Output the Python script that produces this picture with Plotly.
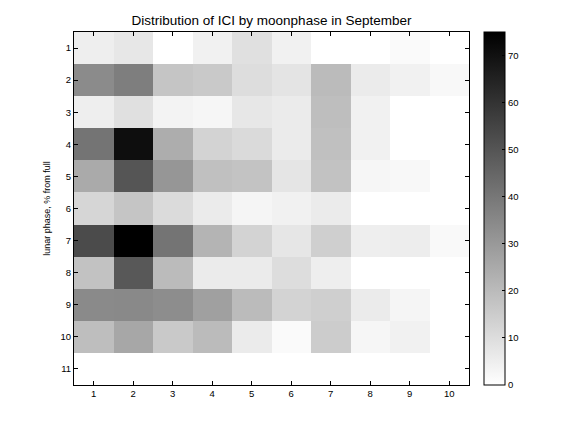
import plotly.graph_objects as go

x_labels = [1, 2, 3, 4, 5, 6, 7, 8, 9, 10]
y_labels = [1, 2, 3, 4, 5, 6, 7, 8, 9, 10, 11]

row1 = [5, 7, 0, 4, 9, 4, 0, 0, 1.5, 0]
row2 = [34, 38, 17, 16, 10, 8, 20, 6, 4, 2]
row3 = [5, 9, 3.5, 2.6, 7, 6, 19, 4, 0, 0]
row4 = [41, 71, 24, 13, 11, 6, 18.5, 4, 0, 0]
row5 = [25, 50, 31, 18.5, 17.6, 7.6, 18, 2.6, 2, 0]
row6 = [12, 17, 10.6, 6, 3, 4, 6, 0, 0, 0]
row7 = [53, 75, 41, 22, 13, 7.4, 14, 5, 5.3, 1.8]
row8 = [18, 49, 20, 6, 6, 10, 5, 0, 0, 0]
row9 = [34.4, 34.7, 33.5, 28, 20, 13, 14, 6, 3, 0]
row10 = [19, 26, 16, 20, 6, 1.5, 15, 2.6, 4, 0]
row11 = [0, 0, 0, 0, 0, 0, 0, 0, 0, 0]

z = [row1, row2, row3, row4, row5, row6, row7, row8, row9, row10, row11]

FONT = "Liberation Sans, Arial, sans-serif"
TICK = 9.5

fig = go.Figure(go.Heatmap(
    z=z, x=x_labels, y=y_labels,
    zmin=0, zmax=75,
    colorscale=[[0, "#ffffff"], [1, "#000000"]],
    colorbar=dict(
        x=1.038, xanchor="left", xref="paper",
        y=0, yanchor="bottom", len=1, lenmode="fraction",
        thickness=21, thicknessmode="pixels",
        outlinecolor="black", outlinewidth=1,
        ticks="inside", ticklen=3, tickcolor="black",
        tickvals=[0, 10, 20, 30, 40, 50, 60, 70],
        tickfont=dict(family=FONT, size=TICK, color="black"),
        xpad=0, ypad=0,
    ),
))

fig.update_layout(
    width=576, height=432,
    margin=dict(l=74, r=107, t=32, b=47),
    paper_bgcolor="white", plot_bgcolor="white",
    title=dict(text="Distribution of ICI by moonphase in September",
               x=(74 + 469) / 2 / 576, xanchor="center", y=1 - 20 / 432, yanchor="middle",
               font=dict(family=FONT, size=13.5, color="black")),
    font=dict(family=FONT, size=TICK, color="black"),
)
fig.update_xaxes(
    range=[0.5, 10.5], tickvals=x_labels, ticks="inside", ticklen=4, tickcolor="black",
    showline=True, linecolor="black", linewidth=1, mirror="ticks", showgrid=False, zeroline=False,
    tickfont=dict(family=FONT, size=TICK, color="black"),
)
fig.update_yaxes(
    range=[11.5, 0.5], tickvals=y_labels, ticks="inside", ticklen=4, tickcolor="black",
    showline=True, linecolor="black", linewidth=1, mirror="ticks", showgrid=False, zeroline=False,
    tickfont=dict(family=FONT, size=TICK, color="black"),
    title=dict(text="lunar phase, % from full", font=dict(family=FONT, size=9, color="black"), standoff=8),
)

fig.write_html("out.html", config={"displayModeBar": False},
               post_script="document.body.style.margin='0';document.body.style.padding='0';")
